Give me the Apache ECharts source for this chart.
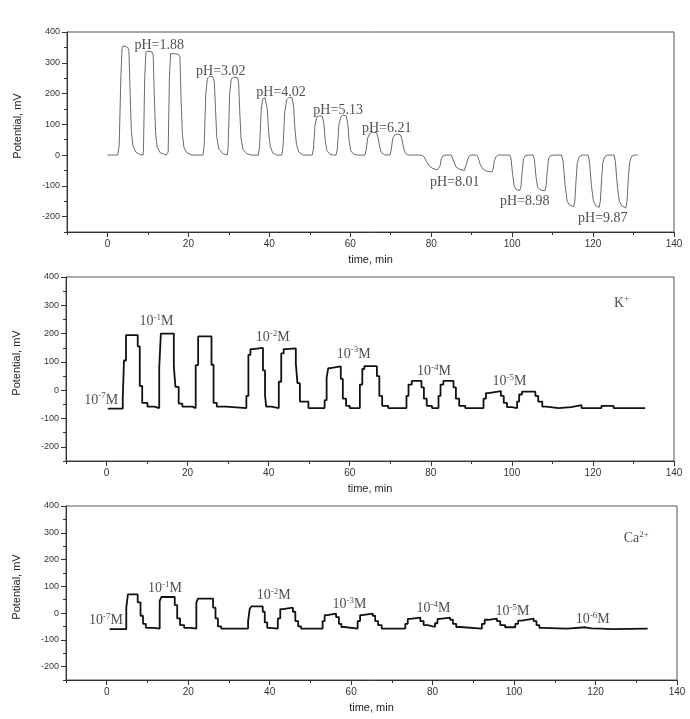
<!DOCTYPE html>
<html><head><meta charset="utf-8">
<script src="https://cdn.jsdelivr.net/npm/echarts@6/dist/echarts.min.js"></script>
<style>html,body{margin:0;padding:0;background:#fff}#c{width:690px;height:719px}</style>
</head><body><div id="c"></div>
<script>
// ---------- data ----------
const phTime = [0,2.5,2.9,3.3,3.6,3.9,5.0,5.3,5.6,5.9,6.3,7,8,8.8,
 8.9,9.2,9.5,10,11,11.3,11.6,11.9,12.3,13,14.5,
 15.0,15.3,15.6,17.5,17.9,18.2,18.5,18.9,19.6,20.8,23.6,
 23.9,24.3,24.7,25.2,26,26.4,26.7,27,27.5,28.5,29.6,
 29.8,30.2,30.6,31.2,32.1,32.4,32.7,33,33.5,34.5,35.5,37.3,
 37.6,38,38.4,38.9,39.2,39.5,39.8,40.2,40.8,41.8,43.1,
 43.4,43.8,44.3,44.9,45.6,46,46.3,46.7,47.3,48.3,50.6,
 50.9,51.3,51.8,52.4,53.1,53.5,53.8,54.2,55,55.8,56.5,
 56.8,57.2,57.7,58.3,59,59.4,59.7,60.1,60.8,61.8,63.6,
 63.9,64.3,64.8,65.5,66.5,66.9,67.3,67.7,68.5,69.8,
 70.1,70.5,71,71.7,72.4,72.8,73.2,73.6,74.3,77.5,
 78.2,78.8,79.5,80.3,81.5,81.9,82.2,82.5,82.9,83.4,85.0,
 85.3,85.7,86.2,87,88.2,88.6,88.9,89.3,89.8,91.2,
 91.6,92.1,92.7,93.6,95.0,95.3,95.6,96,96.6,99.4,
 99.7,100.1,100.5,101,101.9,102.2,102.5,102.8,103.3,104,105.2,
 105.5,105.9,106.3,106.9,108.1,108.4,108.7,109,109.5,110.3,112.2,
 112.6,113.1,113.6,114.2,115.2,115.5,115.8,116.1,116.6,117.3,118.8,
 119.1,119.6,120.1,120.7,121.5,121.8,122.1,122.4,122.9,123.6,125.2,
 125.5,126,126.5,127.1,128.1,128.4,128.7,129,129.5,130.2,131];
const phMv = [0,0,30,250,345,355,350,340,200,80,30,10,2,0,
 20,250,335,338,335,325,180,70,25,8,0,
 10,250,330,328,320,180,70,25,8,0,0,
 30,200,250,256,255,240,150,60,20,5,0,
 20,200,248,253,252,235,140,55,18,4,0,0,
 30,150,182,187,185,150,80,30,8,0,0,
 30,140,180,188,186,160,90,35,10,0,0,
 20,100,125,128,126,100,50,15,3,0,0,
 20,100,125,130,128,100,50,15,3,0,0,
 15,55,70,74,73,55,25,8,1,0,
 15,55,66,68,66,50,22,6,0,0,
 -5,-20,-35,-43,-48,-50,-35,-12,-3,0,0,
 -5,-25,-40,-46,-50,-45,-20,-5,0,0,
 -8,-30,-45,-52,-55,-45,-20,-5,0,0,
 -10,-60,-100,-112,-115,-100,-50,-12,-2,0,0,
 -15,-70,-105,-113,-116,-100,-50,-12,-2,0,0,
 -20,-100,-150,-163,-168,-150,-80,-25,-5,0,0,
 -20,-100,-150,-165,-170,-150,-80,-25,-5,0,0,
 -20,-100,-150,-165,-172,-150,-80,-25,-5,0,0];

const kTime = [0.3,4.0,4.3,4.8,7.7,8.2,8.8,10.1,11.8,13.0,13.4,16.6,17.0,17.8,18.7,21.2,22.0,22.6,25.9,26.4,27.2,29.5,
 34.5,35.0,35.5,36.1,38.6,39.1,39.4,40.7,42.5,43.1,43.7,44.2,46.7,47.1,47.7,49.8,
 53.8,54.3,54.7,55.2,57.8,58.3,59.1,60,62.5,63.1,63.6,66.7,67.3,68.0,69.5,
 74.0,74.5,75.3,77.7,78.3,79.0,80.3,81.9,82.4,83.1,85.6,86.2,87.0,88.5,
 93.0,93.6,94.2,97.3,98.0,98.8,100,101.3,101.8,102.5,105.8,106.5,107.5,108.5,
 111.5,114.6,117.2,122.1,125.1,132.9];
const kMv = [-65,-30,105,195,155,15,-45,-58,-63,80,200,85,12,-47,-58,-63,89,190,90,-45,-58,-63,
 -20,125,145,150,70,-18,-58,-63,30,130,145,148,95,25,-40,-63,
 -35,45,78,84,40,-30,-55,-63,20,75,85,50,-20,-55,-63,
 -20,20,33,10,-30,-55,-63,-20,20,33,10,-30,-55,-63,
 -30,-10,-3,-20,-45,-60,-63,-40,-15,-5,-20,-40,-58,-63,
 -60,-53,-63,-55,-63,-63];

const caTime = [0.7,4.8,5.2,7.6,8.3,8.9,9.6,11.5,13.0,13.4,16.7,17.3,18.0,19.0,20.6,22.0,22.4,26.1,26.7,27.3,28.1,
 34.7,35.1,35.5,38.3,38.8,39.4,40.0,42.0,42.6,43.2,45.7,46.3,47.0,47.7,
 53.0,53.5,54.2,56.3,57.0,57.6,58.3,61.6,62.2,62.7,65.3,65.9,66.6,67.5,
 73.3,73.9,74.5,77.0,77.8,78.8,80.6,81.2,81.8,84.3,85.0,85.8,86.8,
 92.1,92.8,93.7,95.8,96.6,97.8,100.3,101.0,101.9,104.8,105.5,106.2,106.8,
 113.0,117.5,119,121.5,124,132.8];
const caMv = [-60,20,70,40,-10,-40,-55,-58,45,60,30,-20,-45,-55,-58,40,54,20,-20,-50,-58,
 -30,15,25,5,-35,-55,-58,-20,15,20,5,-30,-50,-58,
 -30,-8,-2,-15,-40,-52,-58,-30,-8,-2,-10,-30,-45,-58,
 -40,-22,-17,-30,-45,-52,-38,-22,-17,-25,-40,-52,-58,
 -40,-25,-21,-30,-45,-53,-40,-28,-21,-30,-45,-55,-58,
 -53,-57,-58,-60,-58,-58];

// annotations (text, t, mV)
const phLabels = ['pH=1.88','pH=3.02','pH=4.02','pH=5.13','pH=6.21','pH=8.01','pH=8.98','pH=9.87'];
const phLabelT = [12.8,28,42.9,57,69,85.8,103.1,122.4];
const phLabelMv = [358,271,203,146,87,-90,-150,-204];

const kLabels = ['10^-7^M','10^-1^M','10^-2^M','10^-3^M','10^-4^M','10^-5^M','K^+^'];
const kLabelT = [-1.3,12.3,41,61,80.8,99.4,127.1];
const kLabelMv = [-35,242,187,128,67,30,308];

const caLabels = ['10^-7^M','10^-1^M','10^-2^M','10^-3^M','10^-4^M','10^-5^M','10^-6^M','Ca^2+^'];
const caLabelT = [-0.2,14.3,41,59.6,80.2,99.6,119.3,130];
const caLabelMv = [-28,91,66,31,16,7,-25,278];

const xTicks = [0,20,40,60,80,100,120,140];
const yTicks = [-200,-100,0,100,200,300,400];

// ---------- chart ----------
const zip = (a,b) => a.map((v,i)=>[v,b[i]]);
const toRich = s => s.split('^').map((p,i)=> p==='' ? '' : (i%2 ? '{s|'+p+'}' : '{b|'+p+'}')).join('');

const grids = [
  {left:67, top:32, width:607, height:200},
  {left:66, top:277, width:608, height:184},
  {left:66, top:506, width:611, height:174}
];
const axCol = '#333';
const sans = 'Liberation Sans';
const serif = 'Liberation Serif';
const xAxes = [], yAxes = [];
grids.forEach((g,i)=>{
  xAxes.push({type:'value', gridIndex:i, min:-10, max:140, position:'bottom',
    name:'time, min', nameLocation:'middle', nameGap:22,
    nameTextStyle:{fontFamily:sans, fontSize:11, color:'#222'},
    axisLine:{show:true, onZero:false, lineStyle:{color:axCol, width:1}},
    axisTick:{show:true, customValues:xTicks, length:5, inside:false, lineStyle:{color:axCol}},
    axisLabel:{customValues:xTicks, fontFamily:sans, fontSize:10, color:'#333', margin:7},
    splitLine:{show:false}});
  xAxes.push({type:'value', gridIndex:i, min:-10, max:140, interval:10, position:'bottom',
    axisLine:{show:false, onZero:false}, axisLabel:{show:false}, splitLine:{show:false},
    axisTick:{show:true, length:3, lineStyle:{color:axCol}}});
  yAxes.push({type:'value', gridIndex:i, min:-250, max:400, position:'left',
    name:'Potential, mV', nameLocation:'middle', nameGap:44,
    nameTextStyle:{fontFamily:sans, fontSize:11, color:'#222', padding:[0,0,0,12]},
    axisLine:{show:true, onZero:false, lineStyle:{color:axCol, width:1}},
    axisTick:{show:true, customValues:yTicks, length:5, lineStyle:{color:axCol}},
    axisLabel:{customValues:yTicks, fontFamily:sans, fontSize:9, color:'#333', margin:7},
    splitLine:{show:false}});
  yAxes.push({type:'value', gridIndex:i, min:-250, max:400, interval:50, position:'left',
    axisLine:{show:false, onZero:false}, axisLabel:{show:false}, splitLine:{show:false},
    axisTick:{show:true, length:3, lineStyle:{color:axCol}}});
});

const richStyle = {
  b:{fontFamily:serif, fontSize:14, color:'#222', lineHeight:17},
  s:{fontFamily:serif, fontSize:9, color:'#222', lineHeight:17, verticalAlign:'top'}
};
function labelSeries(idx, names, ts, mvs){
  return {type:'scatter', xAxisIndex:idx*2, yAxisIndex:idx*2, symbolSize:0, silent:true,
    data: names.map((n,i)=>({value:[ts[i], mvs[i]], name:n})),
    label:{show:true, position:'inside', formatter: p => toRich(p.name), rich:richStyle},
    z:5};
}

const chart = echarts.init(document.getElementById('c'), null, {renderer:'canvas'});
chart.setOption({
  animation:false,
  backgroundColor:'#fff',
  grid: grids.map(g=>Object.assign({show:true, borderColor:'#555', borderWidth:1, backgroundColor:'transparent'}, g)),
  xAxis:xAxes, yAxis:yAxes,
  series:[
    {type:'line', xAxisIndex:0, yAxisIndex:0, data:zip(phTime,phMv), showSymbol:false,
     lineStyle:{color:'#6a6a6a', width:1}},
    {type:'line', xAxisIndex:2, yAxisIndex:2, data:zip(kTime,kMv), showSymbol:false, step:'end',
     lineStyle:{color:'#111', width:1.8}},
    {type:'line', xAxisIndex:4, yAxisIndex:4, data:zip(caTime,caMv), showSymbol:false, step:'end',
     lineStyle:{color:'#111', width:1.8}},
    labelSeries(0, phLabels, phLabelT, phLabelMv),
    labelSeries(1, kLabels, kLabelT, kLabelMv),
    labelSeries(2, caLabels, caLabelT, caLabelMv)
  ]
});
</script></body></html>
